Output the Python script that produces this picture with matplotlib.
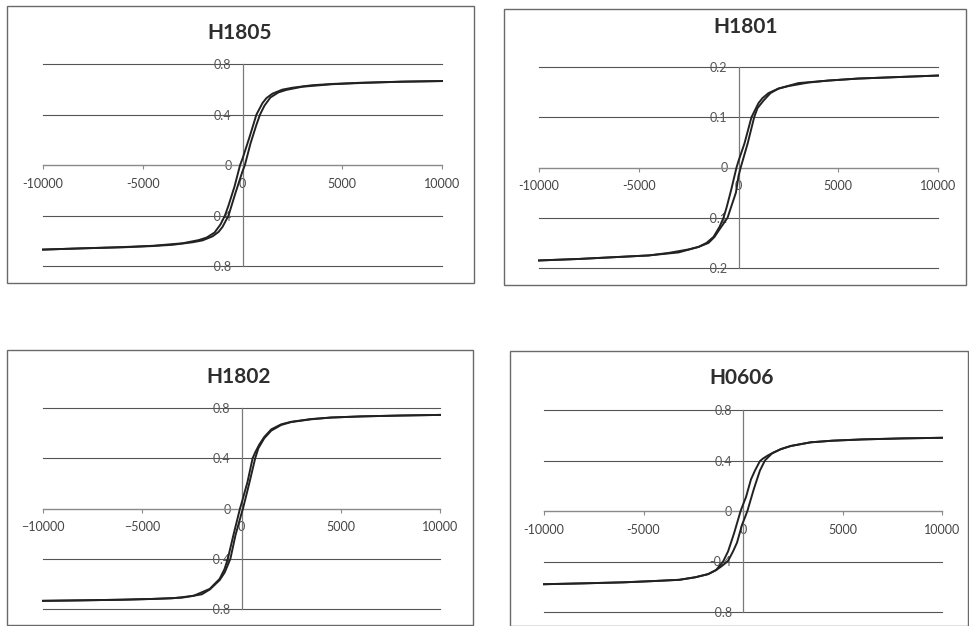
import matplotlib.pyplot as plt
from matplotlib.patches import Rectangle

plt.rcParams['font.family'] = ['Lato', 'DejaVu Sans']

# hysteresis loops: field H (Oe) and magnetisation M
# H1805
h1805_desc_h = [10000, 8000, 6000, 4500, 3500, 2500, 2000, 1500, 1200, 1000, 700, 350, 0, -120, -400, -700, -880, -1100, -1400, -1800, -2200, -3000, -4500, -6000, -8000, -10000]
h1805_desc_m = [0.665, 0.66, 0.652, 0.642, 0.632, 0.612, 0.597, 0.565, 0.53, 0.49, 0.40, 0.22, 0.05, 0.0, -0.17, -0.32, -0.40, -0.47, -0.535, -0.575, -0.595, -0.62, -0.64, -0.65, -0.66, -0.67]
h1805_asc_h = [-10000, -8000, -6000, -4500, -3500, -2500, -2000, -1500, -1200, -1000, -700, -350, 0, 120, 400, 700, 880, 1100, 1400, 1800, 2200, 3000, 4500, 6000, 8000, 10000]
h1805_asc_m = [-0.67, -0.66, -0.652, -0.642, -0.632, -0.612, -0.597, -0.565, -0.53, -0.49, -0.40, -0.22, -0.05, 0.0, 0.17, 0.32, 0.40, 0.47, 0.535, 0.575, 0.595, 0.62, 0.64, 0.65, 0.66, 0.665]

# H1801
h1801_desc_h = [10000, 8000, 6000, 4500, 3500, 2500, 2000, 1500, 1200, 1000, 650, 300, 0, -100, -370, -600, -750, -950, -1250, -1600, -2000, -3000, -4500, -6000, -8000, -10000]
h1801_desc_m = [0.183, 0.18, 0.177, 0.173, 0.169, 0.162, 0.157, 0.148, 0.138, 0.128, 0.10, 0.048, 0.013, 0.0, -0.045, -0.08, -0.10, -0.118, -0.138, -0.15, -0.158, -0.169, -0.175, -0.178, -0.182, -0.185]
h1801_asc_h = [-10000, -8000, -6000, -4500, -3500, -2500, -2000, -1500, -1200, -1000, -550, -130, 0, 110, 460, 785, 950, 1250, 1600, 2000, 3000, 4500, 6000, 8000, 10000]
h1801_asc_m = [-0.185, -0.182, -0.178, -0.175, -0.17, -0.163, -0.158, -0.15, -0.138, -0.126, -0.10, -0.05, -0.017, 0.0, 0.048, 0.10, 0.118, 0.133, 0.148, 0.157, 0.168, 0.173, 0.177, 0.18, 0.183]

# H1802
h1802_desc_h = [10000, 8000, 6000, 4500, 3500, 2500, 2000, 1500, 1150, 900, 700, 560, 300, 0, -75, -390, -690, -850, -1100, -1600, -2400, -3000, -4500, -6000, -8000, -10000]
h1802_desc_m = [0.745, 0.74, 0.733, 0.724, 0.712, 0.69, 0.67, 0.63, 0.57, 0.51, 0.45, 0.40, 0.21, 0.04, 0.0, -0.2, -0.4, -0.48, -0.56, -0.64, -0.694, -0.71, -0.72, -0.726, -0.731, -0.735]
h1802_asc_h = [-10000, -8000, -6000, -4500, -3500, -2500, -2000, -1600, -1100, -850, -690, -560, -300, 0, 75, 390, 690, 850, 1150, 1500, 2000, 2500, 3500, 4500, 6000, 8000, 10000]
h1802_asc_m = [-0.735, -0.731, -0.726, -0.72, -0.715, -0.697, -0.683, -0.645, -0.57, -0.51, -0.45, -0.40, -0.21, -0.04, 0.0, 0.2, 0.4, 0.48, 0.56, 0.62, 0.665, 0.688, 0.71, 0.724, 0.733, 0.74, 0.745]

# H0606
h0606_desc_h = [10000, 8000, 6000, 4500, 3400, 2400, 1900, 1550, 1250, 1000, 850, 600, 400, 150, 0, -120, -450, -750, -1000, -1350, -1750, -2400, -3200, -4500, -6000, -8000, -10000]
h0606_desc_m = [0.58, 0.575, 0.567, 0.557, 0.544, 0.515, 0.49, 0.465, 0.44, 0.415, 0.395, 0.32, 0.25, 0.11, 0.05, 0.0, -0.177, -0.32, -0.40, -0.467, -0.50, -0.525, -0.545, -0.555, -0.565, -0.573, -0.58]
h0606_asc_h = [-10000, -8000, -6000, -4500, -3200, -2400, -1750, -1350, -1100, -900, -750, -500, -300, -50, 100, 220, 550, 850, 1100, 1450, 1900, 2400, 3400, 4500, 6000, 8000, 10000]
h0606_asc_m = [-0.58, -0.573, -0.565, -0.555, -0.545, -0.525, -0.50, -0.468, -0.44, -0.415, -0.395, -0.32, -0.25, -0.11, -0.05, 0.0, 0.177, 0.32, 0.40, 0.455, 0.49, 0.515, 0.544, 0.557, 0.567, 0.575, 0.58]

titles = ['H1805', 'H1801', 'H1802', 'H0606']
x_ticks = [-10000, -5000, 0, 5000, 10000]
x_labels = ['-10000', '-5000', '0', '5000', '10000']
x_labels_minus = ['\u221210000', '\u22125000', '0', '5000', '10000']
y_ticks_08 = [-0.8, -0.4, 0, 0.4, 0.8]
y_labels_08 = ['-0.8', '-0.4', '0', '0.4', '0.8']
y_ticks_02 = [-0.2, -0.1, 0, 0.1, 0.2]
y_labels_02 = ['-0.2', '-0.1', '0', '0.1', '0.2']

loops = [
    (h1805_desc_h, h1805_desc_m, h1805_asc_h, h1805_asc_m),
    (h1801_desc_h, h1801_desc_m, h1801_asc_h, h1801_asc_m),
    (h1802_desc_h, h1802_desc_m, h1802_asc_h, h1802_asc_m),
    (h0606_desc_h, h0606_desc_m, h0606_asc_h, h0606_asc_m),
]
yticks = [(y_ticks_08, y_labels_08), (y_ticks_02, y_labels_02),
          (y_ticks_08, y_labels_08), (y_ticks_08, y_labels_08)]
xlabels = [x_labels, x_labels, x_labels_minus, x_labels]

W, H = 969, 626
# pixel boxes: outer frame (x0, y0, x1, y1), plot area, title centre
frames = [(7, 6, 474, 283), (504, 9, 966, 285), (7, 350, 473, 625), (510, 351, 968, 626)]
areas = [(43, 64, 442, 266), (539, 67, 938, 268), (43, 408, 440, 609), (544, 410, 942, 612)]
title_pos = [(240, 33), (746, 27), (239, 377), (742, 378)]

fig = plt.figure(figsize=(W / 100, H / 100), dpi=100)

for i in range(4):
    fx0, fy0, fx1, fy1 = frames[i]
    fig.add_artist(Rectangle((fx0 / W, 1 - fy1 / H), (fx1 - fx0) / W, (fy1 - fy0) / H,
                             transform=fig.transFigure, fill=False,
                             edgecolor='#6a6a6a', linewidth=1.0))
    tx, ty = title_pos[i]
    fig.text(tx / W, 1 - ty / H, titles[i], ha='center', va='center',
             fontsize=15, fontweight='bold', color='#2e2e2e')

    x0, y0, x1, y1 = areas[i]
    ax = fig.add_axes([x0 / W, 1 - y1 / H, (x1 - x0) / W, (y1 - y0) / H])
    ax.patch.set_alpha(0)

    dh, dm, ah, am = loops[i]
    ax.plot(dh, dm, color='#222222', linewidth=1.4, clip_on=False, zorder=3)
    ax.plot(ah, am, color='#222222', linewidth=1.4, clip_on=False, zorder=3)

    yt, yl = yticks[i]
    ax.set_xlim(-10000, 10000)
    ax.set_ylim(yt[0], yt[-1])
    ax.set_xticks(x_ticks)
    ax.set_xticklabels(xlabels[i])
    ax.set_yticks(yt)
    ax.set_yticklabels(yl)

    ax.spines['left'].set_position(('data', 0))
    ax.spines['bottom'].set_position(('data', 0))
    ax.spines['top'].set_visible(False)
    ax.spines['right'].set_visible(False)
    ax.spines['left'].set_color('#7a7a7a')
    ax.spines['bottom'].set_color('#8a8a8a')
    ax.spines['left'].set_linewidth(0.9)
    ax.spines['bottom'].set_linewidth(0.9)

    ax.yaxis.grid(True, color='#555555', linewidth=0.8)
    for gl in ax.get_ygridlines():
        gl.set_clip_on(False)
    ax.set_axisbelow(True)
    ax.tick_params(axis='x', direction='out', length=3, width=0.8, color='#8a8a8a',
                   pad=6, labelsize=9, labelcolor='#444444')
    ax.tick_params(axis='y', length=0, pad=8, labelsize=9, labelcolor='#555555')

plt.savefig('out.png', dpi=100)
